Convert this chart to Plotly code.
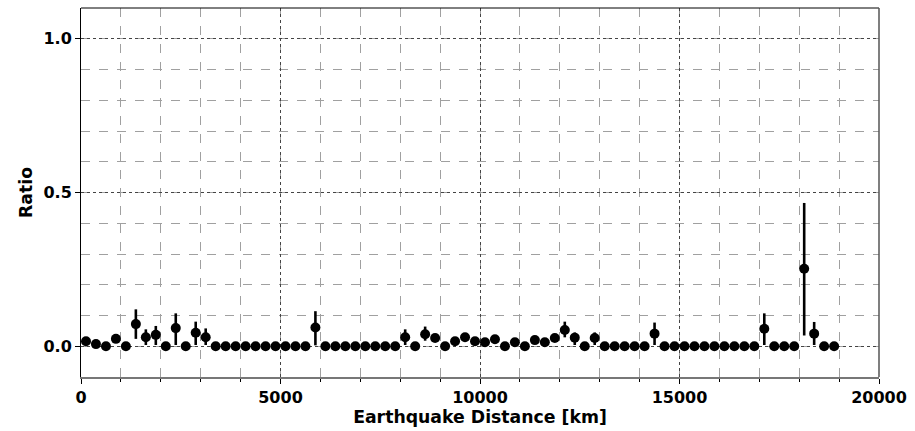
import plotly.graph_objects as go

distance_km = [125 + 250 * i for i in range(76)]

ratio = [
    0.016, 0.007, 0.0, 0.024, 0.0, 0.072, 0.029, 0.037, 0.0, 0.059,
    0.0, 0.044, 0.029, 0.0, 0.0, 0.0, 0.0, 0.0, 0.0, 0.0,
    0.0, 0.0, 0.0, 0.061, 0.0, 0.0, 0.0, 0.0, 0.0, 0.0,
    0.0, 0.0, 0.029, 0.0, 0.039, 0.027, 0.0, 0.016, 0.029, 0.016,
    0.013, 0.023, 0.0, 0.013, 0.0, 0.02, 0.013, 0.027, 0.053, 0.028,
    0.0, 0.027, 0.0, 0.0, 0.0, 0.0, 0.0, 0.041, 0.0, 0.0,
    0.0, 0.0, 0.0, 0.0, 0.0, 0.0, 0.0, 0.0, 0.057, 0.0,
    0.0, 0.0, 0.252, 0.041, 0.0, 0.0,
]

upper = [
    0.016, 0.007, 0.0, 0.024, 0.0, 0.12, 0.055, 0.066, 0.0, 0.107,
    0.0, 0.08, 0.058, 0.0, 0.0, 0.0, 0.0, 0.0, 0.0, 0.0,
    0.0, 0.0, 0.0, 0.114, 0.0, 0.0, 0.0, 0.0, 0.0, 0.0,
    0.0, 0.0, 0.055, 0.0, 0.064, 0.027, 0.0, 0.016, 0.029, 0.016,
    0.013, 0.036, 0.0, 0.013, 0.0, 0.02, 0.013, 0.027, 0.08, 0.045,
    0.0, 0.045, 0.0, 0.0, 0.0, 0.0, 0.0, 0.077, 0.0, 0.0,
    0.0, 0.0, 0.0, 0.0, 0.0, 0.0, 0.0, 0.0, 0.107, 0.0,
    0.0, 0.0, 0.466, 0.079, 0.0, 0.0,
]

lower = [
    0.016, 0.007, 0.0, 0.024, 0.0, 0.024, 0.004, 0.004, 0.0, 0.004,
    0.0, 0.004, 0.004, 0.0, 0.0, 0.0, 0.0, 0.0, 0.0, 0.0,
    0.0, 0.0, 0.0, 0.003, 0.0, 0.0, 0.0, 0.0, 0.0, 0.0,
    0.0, 0.0, 0.004, 0.0, 0.018, 0.027, 0.0, 0.016, 0.029, 0.016,
    0.013, 0.008, 0.0, 0.013, 0.0, 0.02, 0.013, 0.027, 0.029, 0.004,
    0.0, 0.004, 0.0, 0.0, 0.0, 0.0, 0.0, 0.004, 0.0, 0.0,
    0.0, 0.0, 0.0, 0.0, 0.0, 0.0, 0.0, 0.0, 0.004, 0.0,
    0.0, 0.0, 0.035, 0.004, 0.0, 0.0,
]

x_tick_vals = [0, 5000, 10000, 15000, 20000]
x_tick_text = ["0", "5000", "10000", "15000", "20000"]
y_tick_vals = [0.0, 0.5, 1.0]
y_tick_text = ["0.0", "0.5", "1.0"]

err_plus = [round(u - r, 4) for u, r in zip(upper, ratio)]
err_minus = [round(r - l, 4) for l, r in zip(lower, ratio)]

font = "DejaVu Sans"

fig = go.Figure()
fig.add_trace(go.Scatter(
    x=distance_km, y=ratio, mode="markers",
    marker=dict(color="black", size=10, line=dict(width=0)),
    error_y=dict(type="data", symmetric=False, array=err_plus,
                 arrayminus=err_minus, color="black", thickness=2.6, width=0),
    showlegend=False,
))

fig.update_layout(
    width=915, height=431,
    margin=dict(l=81, r=36, t=8, b=54),
    paper_bgcolor="white", plot_bgcolor="white",
    font=dict(family=font, size=16, color="black"),
    xaxis=dict(
        range=[0, 20000], tickvals=x_tick_vals, ticktext=x_tick_text,
        ticks="outside", ticklen=5, tickwidth=1, tickcolor="black",
        tickfont=dict(family=font, size=16, color="black", weight="bold"),
        showline=True, linecolor="#777777", linewidth=2,
        showgrid=True, gridcolor="#444444", griddash="dot", gridwidth=1,
        zeroline=False,
        minor=dict(dtick=1000, showgrid=True, gridcolor="#a0a0a0",
                   griddash="dash", gridwidth=1, ticks="outside",
                   ticklen=3, tickcolor="black"),
        title=dict(text="<b>Earthquake Distance [km]</b>", standoff=5,
                   font=dict(family=font, size=17.3, color="black")),
    ),
    yaxis=dict(
        range=[-0.1, 1.1], tickvals=y_tick_vals, ticktext=y_tick_text,
        ticks="outside", ticklen=5, tickwidth=1, tickcolor="black",
        tickfont=dict(family=font, size=16, color="black", weight="bold"),
        showline=True, linecolor="black", linewidth=1,
        showgrid=True, gridcolor="#444444", griddash="dot", gridwidth=1,
        zeroline=False,
        minor=dict(dtick=0.1, tick0=0, showgrid=True, gridcolor="#a0a0a0",
                   griddash="dash", gridwidth=1),
        title=dict(text="<b>Ratio</b>", standoff=6,
                   font=dict(family=font, size=17.3, color="black")),
    ),
    shapes=[
        dict(type="line", xref="x domain", yref="y domain", x0=0, x1=1, y0=1, y1=1,
             line=dict(color="black", width=1)),
        dict(type="line", xref="x domain", yref="y domain", x0=1, x1=1, y0=0, y1=1,
             line=dict(color="#555555", width=1.5)),
    ],
)

fig.write_html("out.html")
